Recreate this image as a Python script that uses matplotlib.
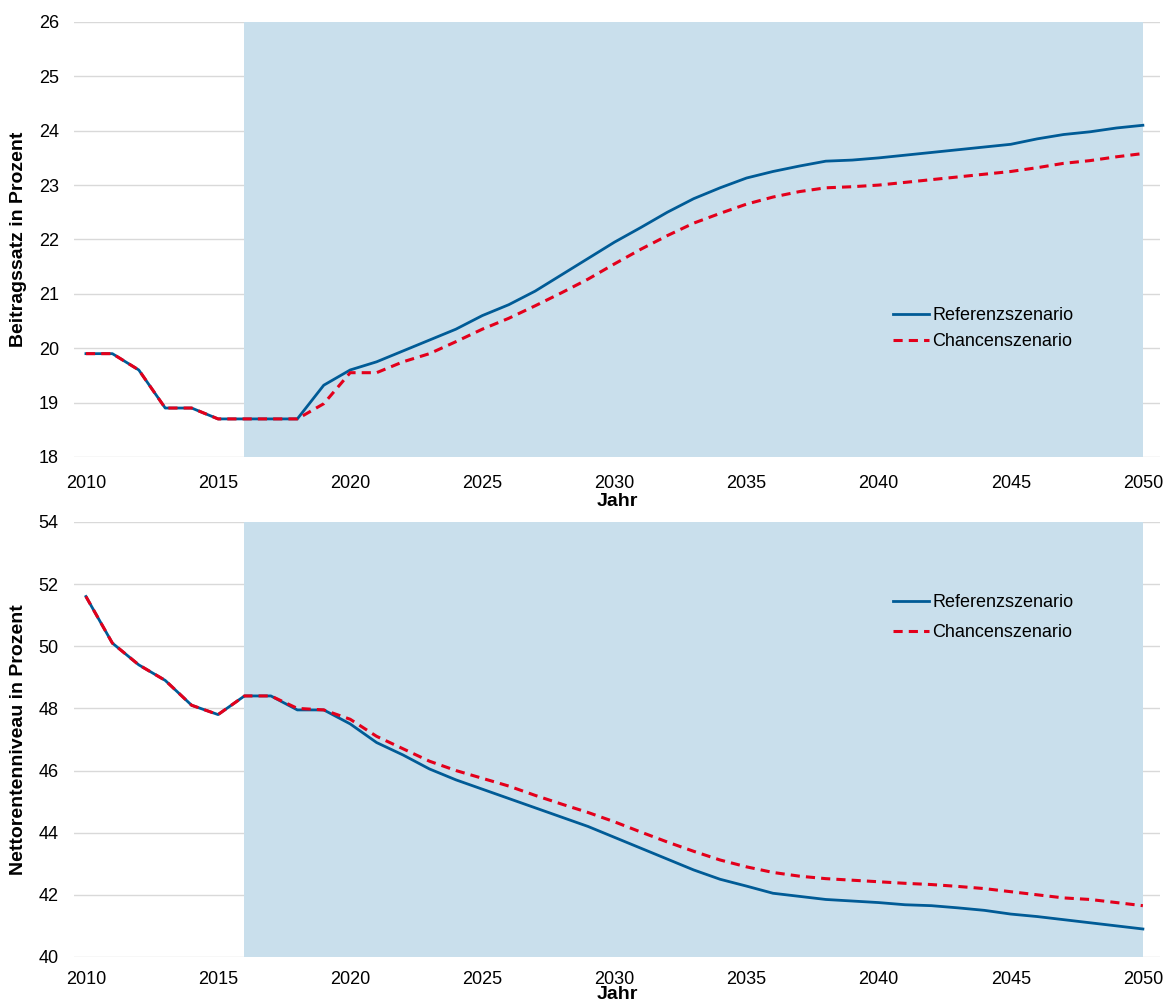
import numpy as np
import matplotlib
matplotlib.use('Agg')
import matplotlib.pyplot as plt

plt.rcParams['font.family'] = ['Liberation Sans', 'DejaVu Sans']

years = list(range(2010, 2051))

# Beitragssatz (top)
beitrag_ref = [19.9, 19.9, 19.6, 18.9, 18.9, 18.7, 18.7, 18.7, 18.7, 19.32,
               19.6, 19.75, 19.95, 20.15, 20.35, 20.6, 20.8, 21.05, 21.35, 21.65,
               21.95, 22.22, 22.5, 22.75, 22.95, 23.13, 23.25, 23.35, 23.44, 23.46,
               23.5, 23.55, 23.6, 23.65, 23.7, 23.75, 23.85, 23.93, 23.98, 24.05, 24.1]
beitrag_chance = [19.9, 19.9, 19.6, 18.9, 18.9, 18.7, 18.7, 18.7, 18.7, 18.98,
                  19.55, 19.55, 19.75, 19.9, 20.12, 20.35, 20.55, 20.78, 21.02, 21.27,
                  21.55, 21.82, 22.07, 22.3, 22.48, 22.65, 22.78, 22.88, 22.95, 22.97,
                  23.0, 23.05, 23.1, 23.15, 23.2, 23.25, 23.32, 23.4, 23.45, 23.52, 23.58]

# Nettorentenniveau (bottom)
netto_ref = [51.6, 50.1, 49.4, 48.9, 48.1, 47.8, 48.4, 48.4, 47.95, 47.95,
             47.5, 46.9, 46.5, 46.05, 45.7, 45.4, 45.1, 44.8, 44.5, 44.2,
             43.85, 43.5, 43.15, 42.8, 42.5, 42.28, 42.05, 41.95, 41.85, 41.8,
             41.75, 41.68, 41.65, 41.58, 41.5, 41.38, 41.3, 41.2, 41.1, 41.0, 40.9]
netto_chance = [51.6, 50.1, 49.4, 48.9, 48.1, 47.8, 48.4, 48.4, 48.0, 47.95,
                47.65, 47.1, 46.7, 46.3, 46.0, 45.75, 45.5, 45.2, 44.92, 44.65,
                44.35, 44.02, 43.7, 43.4, 43.12, 42.9, 42.72, 42.6, 42.52, 42.47,
                42.42, 42.37, 42.33, 42.27, 42.2, 42.1, 42.0, 41.9, 41.85, 41.75, 41.65]

BLUE = '#005B96'
RED = '#E3001B'
SHADE = '#C9DFEC'
GRID = '#D9D9D9'
FS = 13

fig = plt.figure(figsize=(11.68, 10.07), dpi=100)
ax_top = fig.add_axes([0.0634, 0.5462, 0.9298, 0.432])
ax_bot = fig.add_axes([0.0634, 0.0497, 0.9298, 0.432])

panels = [
    (ax_top, beitrag_ref, beitrag_chance, (18, 26), 1, 'Beitragssatz in Prozent',
     (0.747, 0.295), 0.5, 13, 1),
    (ax_bot, netto_ref, netto_chance, (40, 54), 2, 'Nettorentenniveau in Prozent',
     (0.747, 0.780), 0.72, 10, -1),
]

for ax, ref, chance, ylim, ystep, ylabel, leg_pos, leg_space, xtpad, xlpad in panels:
    ax.axvspan(2016, 2050, color=SHADE, zorder=1, lw=0)
    ax.plot(years, ref, color=BLUE, lw=2.0, zorder=3, label='Referenzszenario')
    ax.plot(years, chance, color=RED, lw=2.2, ls=(0, (3, 2)), zorder=4,
            label='Chancenszenario')
    ax.set_xlim(2009.55, 2050.65)
    ax.set_ylim(*ylim)
    ax.set_yticks(np.arange(ylim[0], ylim[1] + 0.1, ystep))
    ax.set_xticks(range(2010, 2051, 5))
    ax.set_axisbelow(True)
    ax.grid(axis='y', color=GRID, lw=1.0, zorder=0)
    for s in ax.spines.values():
        s.set_visible(False)
    ax.tick_params(length=0, labelsize=FS)
    ax.tick_params(axis='y', pad=11)
    ax.tick_params(axis='x', pad=xtpad)
    ax.set_xlabel('Jahr', fontsize=14, fontweight='bold', labelpad=xlpad)
    ax.set_ylabel(ylabel, fontsize=14, fontweight='bold')
    ax.yaxis.set_label_coords(-0.043, 0.5)
    ax.legend(loc='center left', bbox_to_anchor=leg_pos, frameon=False,
              fontsize=FS, handlelength=2.0, handletextpad=0.2,
              labelspacing=leg_space, borderaxespad=0)

fig.savefig('out.png', dpi=100)
